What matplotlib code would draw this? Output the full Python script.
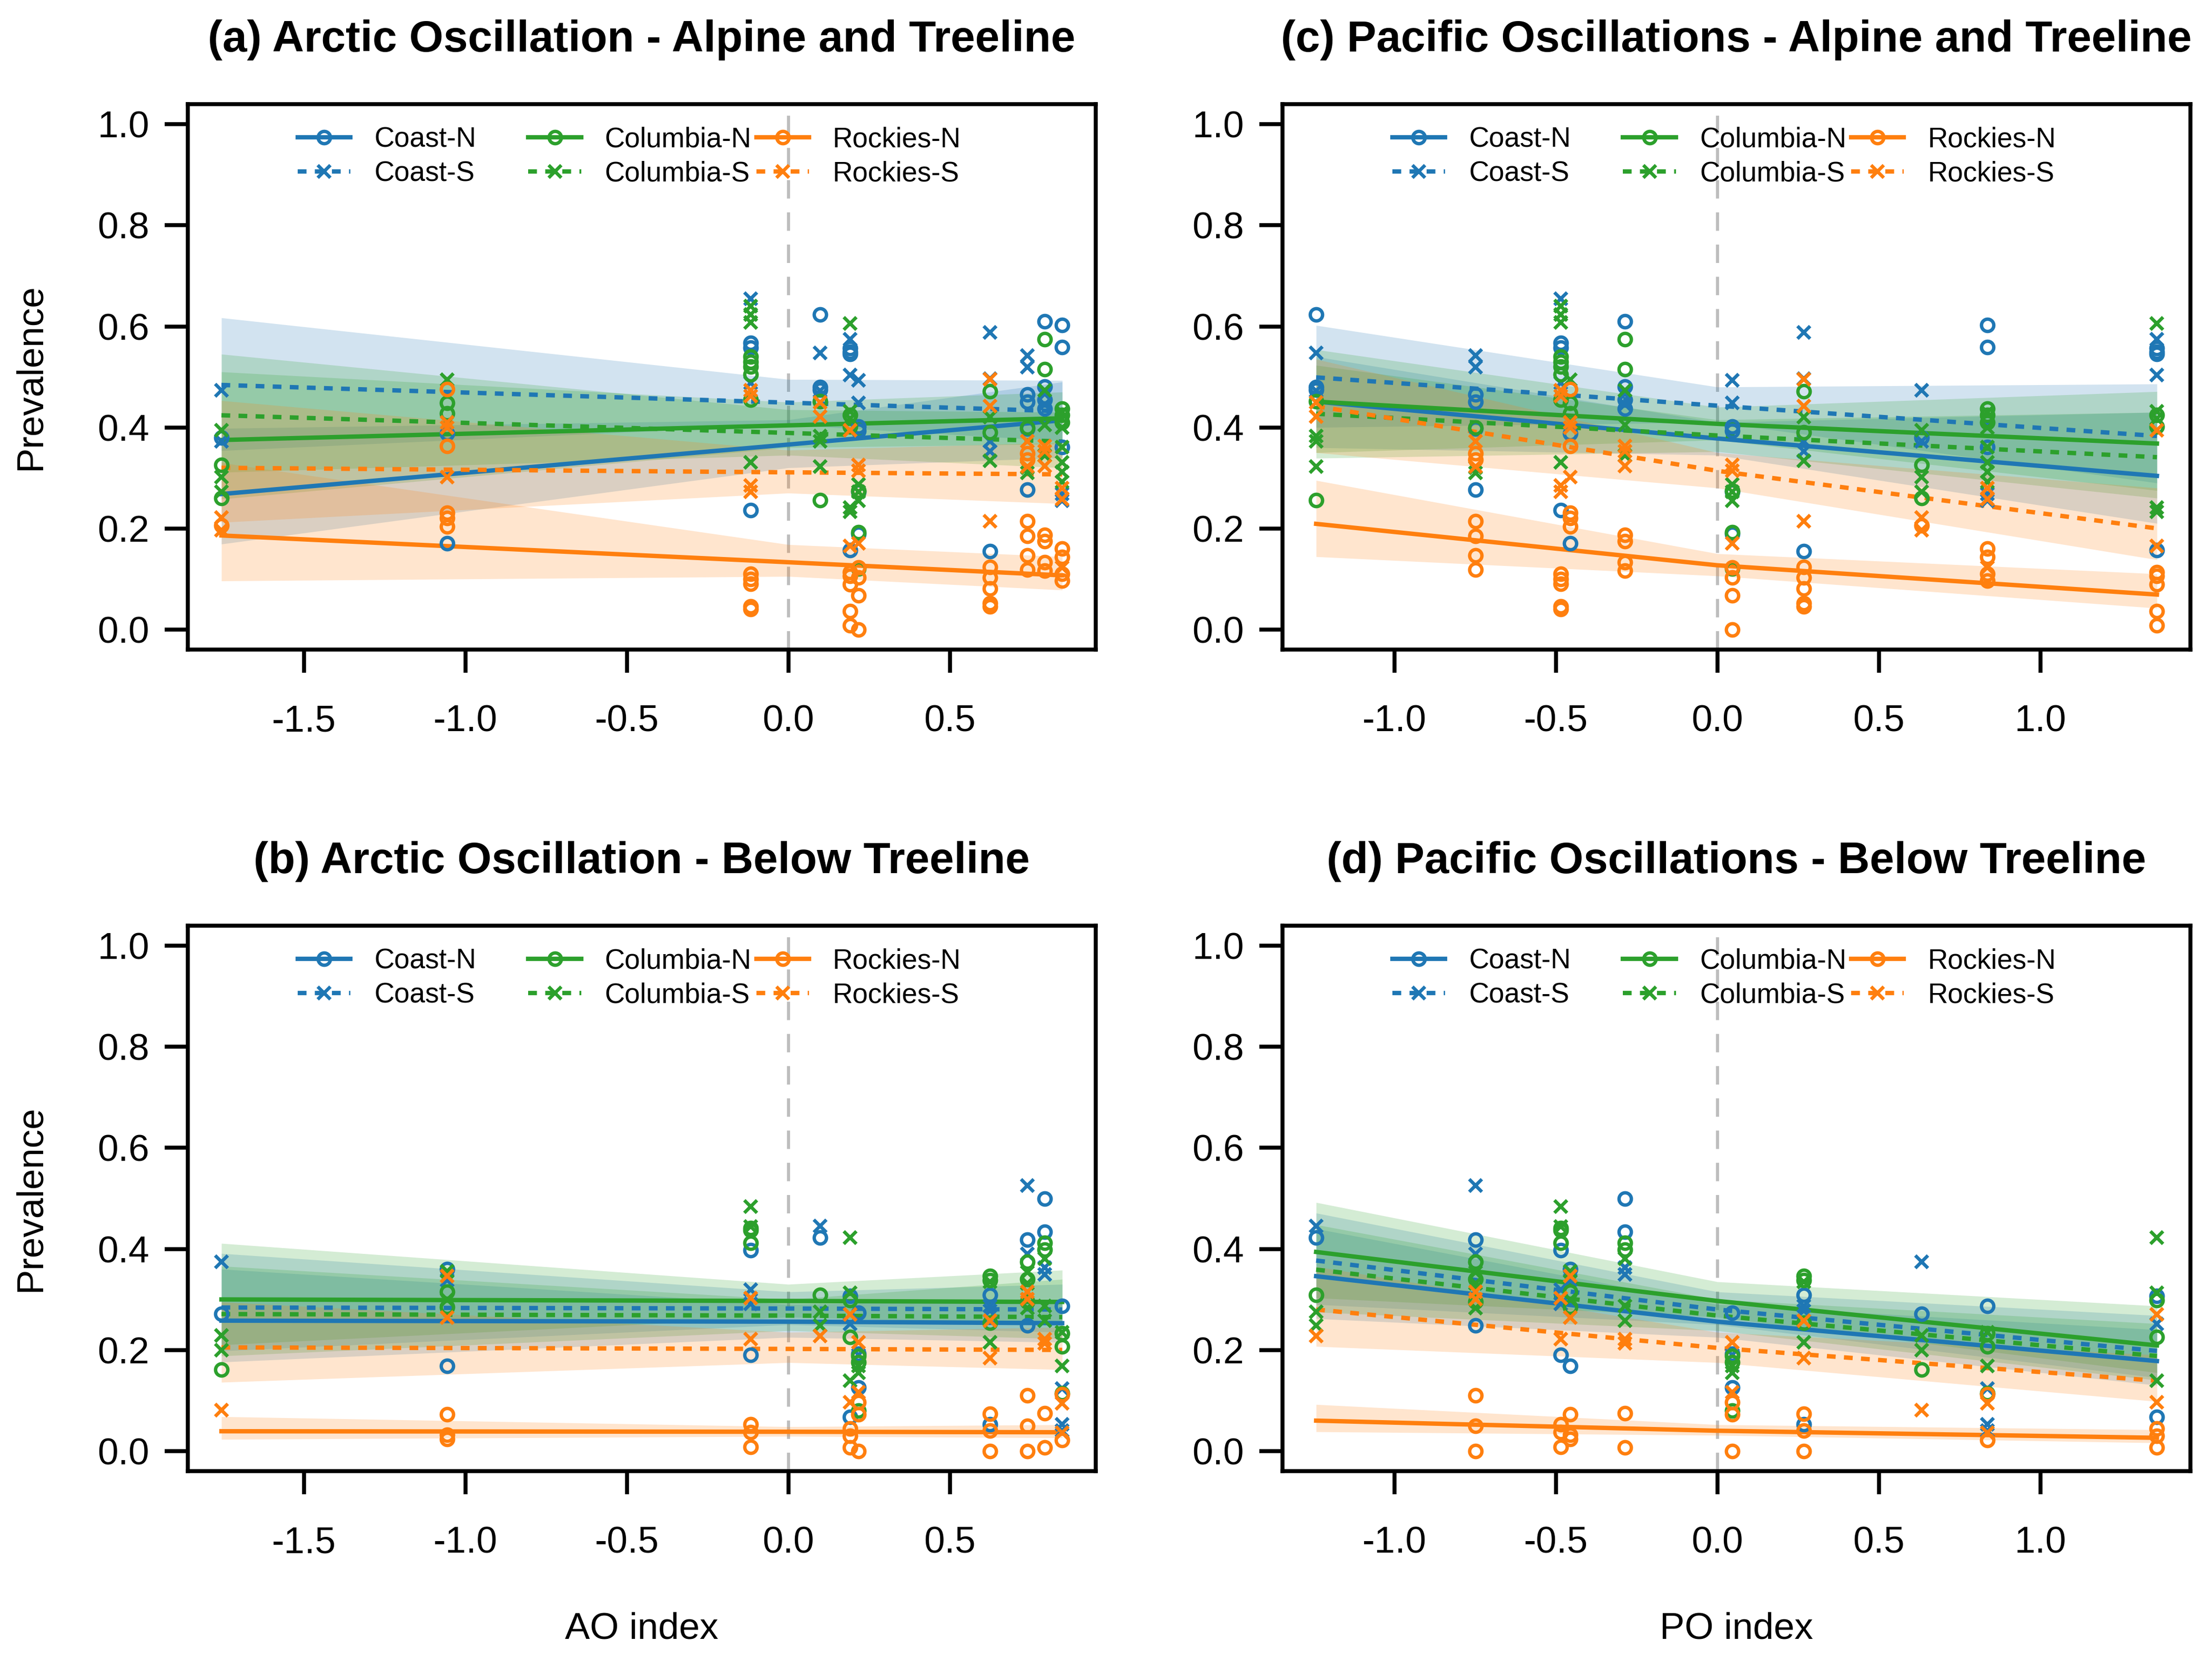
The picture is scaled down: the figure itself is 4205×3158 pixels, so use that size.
import numpy as np
import matplotlib
matplotlib.use("Agg")
import matplotlib.pyplot as plt
from matplotlib.lines import Line2D

plt.rcParams['font.family'] = ['Liberation Sans', 'DejaVu Sans']

# index value of each survey year (same years in AO and PO panels)
ao_index = [-1.755, -1.057, -0.117, 0.098, 0.218, 0.192, 0.625, 0.740, 0.794, 0.848]
po_index = [0.633, -0.456, -0.484, -1.242, 0.047, 1.361, 0.267, -0.748, -0.286, 0.836]

groups = ['Coast-N', 'Coast-S', 'Columbia-N', 'Columbia-S', 'Rockies-N', 'Rockies-S']
region_colors = {'Coast': '#1f77b4', 'Columbia': '#2ca02c', 'Rockies': '#ff7f0e'}

# observed prevalence, alpine and treeline (one list per year)
at_coast_n = [[0.380], [0.388, 0.17], [0.567, 0.558, 0.236], [0.623, 0.48, 0.475],
              [0.402, 0.393, 0.272, 0.189], [0.557, 0.55, 0.545, 0.157], [0.155],
              [0.465, 0.451, 0.397, 0.277], [0.610, 0.481, 0.455, 0.437], [0.603, 0.559, 0.361]]
at_coast_s = [[0.474, 0.373], [], [0.655, 0.488], [0.547, 0.472], [0.493, 0.449],
              [0.574, 0.504], [0.588, 0.496, 0.373, 0.353], [0.542, 0.519], [0.466, 0.445],
              [0.268, 0.255]]
at_columbia_n = [[0.326, 0.26], [0.448, 0.428], [0.54, 0.53, 0.52, 0.505, 0.455], [0.452, 0.256],
                 [0.275, 0.192, 0.12], [0.425, 0.402], [0.471, 0.390], [0.400], [0.574, 0.515],
                 [0.437, 0.425, 0.41]]
at_columbia_s = [[0.394, 0.302, 0.273], [0.494], [0.64, 0.623, 0.608, 0.331], [0.383, 0.372, 0.323],
                 [0.287, 0.272, 0.255], [0.606, 0.432, 0.417, 0.241, 0.233], [0.42, 0.334],
                 [0.32, 0.31], [0.474, 0.405, 0.344], [0.43, 0.40, 0.361, 0.331, 0.312, 0.292]]
at_rockies_n = [[0.206], [0.476, 0.363, 0.231, 0.22, 0.204], [0.11, 0.10, 0.09, 0.045, 0.04], [],
                [0.123, 0.103, 0.067, 0.0], [0.113, 0.106, 0.089, 0.036, 0.008],
                [0.124, 0.103, 0.081, 0.052, 0.045], [0.349, 0.336, 0.214, 0.185, 0.147, 0.118],
                [0.187, 0.175, 0.133, 0.116], [0.16, 0.143, 0.11, 0.096]]
at_rockies_s = [[0.221, 0.197], [0.41, 0.40, 0.302], [0.473, 0.462, 0.285, 0.273], [0.450, 0.421],
                [0.326, 0.314, 0.17], [0.394, 0.165], [0.495, 0.442, 0.214], [0.373, 0.322],
                [0.363, 0.353, 0.324], [0.28, 0.258, 0.123]]

# observed prevalence, below treeline
btl_coast_n = [[0.271], [0.36, 0.168], [0.397, 0.19], [0.422], [0.274, 0.192, 0.126],
               [0.307, 0.067], [0.309, 0.053], [0.418, 0.248], [0.499, 0.434], [0.287]]
btl_coast_s = [[0.374], [0.338], [0.319, 0.291], [0.445], [0.19], [0.252], [0.287, 0.278],
               [0.526, 0.39], [0.363, 0.35], [0.124, 0.053, 0.04]]
btl_columbia_n = [[0.161], [0.315, 0.285], [0.441, 0.437, 0.412], [0.309], [0.188, 0.176, 0.08],
                  [0.299, 0.226], [0.346, 0.338, 0.254], [0.375, 0.34, 0.295], [0.412, 0.398],
                  [0.233, 0.207, 0.114]]
btl_columbia_s = [[0.229, 0.2], [0.356, 0.3], [0.484, 0.444], [0.276, 0.248], [0.168, 0.155],
                  [0.422, 0.313, 0.139], [0.335, 0.215], [0.354, 0.332, 0.283],
                  [0.381, 0.287, 0.258], [0.235, 0.168]]
btl_rockies_n = [[], [0.073, 0.032, 0.024], [0.053, 0.037, 0.008], [], [0.096, 0.073, 0.0],
                 [0.044, 0.03, 0.007], [0.074, 0.04, 0.0], [0.11, 0.05, 0.0], [0.075, 0.007],
                 [0.112, 0.022]]
btl_rockies_s = [[0.081], [0.346, 0.264], [0.303, 0.221], [0.228], [0.215, 0.116], [0.27, 0.096],
                 [0.258, 0.184], [0.315, 0.301], [0.221, 0.213], [0.094, 0.036]]

obs_at = dict(zip(groups, [at_coast_n, at_coast_s, at_columbia_n, at_columbia_s,
                           at_rockies_n, at_rockies_s]))
obs_btl = dict(zip(groups, [btl_coast_n, btl_coast_s, btl_columbia_n, btl_columbia_s,
                            btl_rockies_n, btl_rockies_s]))

# fitted prevalence and 95% band, read at start / zero / end of index range
ao_fit_x = [-1.755, 0.0, 0.848]
po_fit_x = [-1.242, 0.0, 1.361]

fit_a = {'Coast-N': [0.268, 0.366, 0.414], 'Coast-S': [0.484, 0.449, 0.432],
         'Columbia-N': [0.375, 0.404, 0.418], 'Columbia-S': [0.424, 0.389, 0.372],
         'Rockies-N': [0.186, 0.133, 0.107], 'Rockies-S': [0.320, 0.311, 0.307]}
lo_a = {'Coast-N': [0.169, 0.32, 0.34], 'Coast-S': [0.354, 0.405, 0.373],
        'Columbia-N': [0.258, 0.36, 0.367], 'Columbia-S': [0.311, 0.345, 0.32],
        'Rockies-N': [0.096, 0.105, 0.078], 'Rockies-S': [0.212, 0.27, 0.249]}
hi_a = {'Coast-N': [0.398, 0.415, 0.49], 'Coast-S': [0.617, 0.495, 0.493],
        'Columbia-N': [0.51, 0.45, 0.47], 'Columbia-S': [0.545, 0.435, 0.43],
        'Rockies-N': [0.33, 0.168, 0.144], 'Rockies-S': [0.453, 0.355, 0.37]}

fit_b = {'Coast-N': [0.258, 0.256, 0.253], 'Coast-S': [0.284, 0.282, 0.28],
         'Columbia-N': [0.300, 0.297, 0.295], 'Columbia-S': [0.271, 0.268, 0.265],
         'Rockies-N': [0.039, 0.038, 0.037], 'Rockies-S': [0.205, 0.202, 0.2]}
lo_b = {'Coast-N': [0.176, 0.225, 0.215], 'Coast-S': [0.198, 0.25, 0.235],
        'Columbia-N': [0.21, 0.265, 0.25], 'Columbia-S': [0.188, 0.238, 0.222],
        'Rockies-N': [0.023, 0.029, 0.026], 'Rockies-S': [0.136, 0.175, 0.161]}
hi_b = {'Coast-N': [0.36, 0.29, 0.3], 'Coast-S': [0.391, 0.315, 0.33],
        'Columbia-N': [0.411, 0.33, 0.358], 'Columbia-S': [0.366, 0.30, 0.34],
        'Rockies-N': [0.068, 0.048, 0.052], 'Rockies-S': [0.295, 0.235, 0.245]}

fit_c = {'Coast-N': [0.451, 0.378, 0.304], 'Coast-S': [0.499, 0.443, 0.383],
         'Columbia-N': [0.451, 0.407, 0.368], 'Columbia-S': [0.427, 0.384, 0.341],
         'Rockies-N': [0.209, 0.127, 0.069], 'Rockies-S': [0.442, 0.314, 0.20]}
lo_c = {'Coast-N': [0.36, 0.345, 0.21], 'Coast-S': [0.40, 0.41, 0.29],
        'Columbia-N': [0.35, 0.375, 0.275], 'Columbia-S': [0.339, 0.352, 0.26],
        'Rockies-N': [0.144, 0.106, 0.042], 'Rockies-S': [0.35, 0.28, 0.138]}
hi_c = {'Coast-N': [0.54, 0.41, 0.43], 'Coast-S': [0.602, 0.48, 0.486],
        'Columbia-N': [0.554, 0.44, 0.471], 'Columbia-S': [0.523, 0.415, 0.43],
        'Rockies-N': [0.295, 0.15, 0.11], 'Rockies-S': [0.535, 0.35, 0.28]}

fit_d = {'Coast-N': [0.346, 0.256, 0.178], 'Coast-S': [0.377, 0.28, 0.198],
         'Columbia-N': [0.394, 0.297, 0.209], 'Columbia-S': [0.359, 0.268, 0.188],
         'Rockies-N': [0.06, 0.04, 0.026], 'Rockies-S': [0.28, 0.204, 0.139]}
lo_d = {'Coast-N': [0.262, 0.225, 0.13], 'Coast-S': [0.29, 0.25, 0.145],
        'Columbia-N': [0.303, 0.265, 0.155], 'Columbia-S': [0.275, 0.238, 0.14],
        'Rockies-N': [0.038, 0.031, 0.016], 'Rockies-S': [0.207, 0.175, 0.098]}
hi_d = {'Coast-N': [0.44, 0.29, 0.24], 'Coast-S': [0.471, 0.315, 0.268],
        'Columbia-N': [0.492, 0.335, 0.287], 'Columbia-S': [0.448, 0.30, 0.252],
        'Rockies-N': [0.092, 0.052, 0.042], 'Rockies-S': [0.365, 0.235, 0.19]}

yticks = [0.0, 0.2, 0.4, 0.6, 0.8, 1.0]
ao_ticks = [-1.5, -1.0, -0.5, 0.0, 0.5]
po_ticks = [-1.0, -0.5, 0.0, 0.5, 1.0]

LW = 2.0
DOT = (0, (2.0, 1.9))
MS = 5.6
MEW = 1.55


def style_of(group):
    region, part = group.split('-')
    col = region_colors[region]
    if part == 'N':
        return col, '-', 'o'
    return col, DOT, 'x'


def draw_panel(ax, xvals, obs, fit_x, fit, lo, hi, title, xticks):
    ax.axvline(0, color='#bdbdbd', lw=1.4, ls=(0, (6, 4.5)), zorder=0)
    for g in groups:
        col, ls, mk = style_of(g)
        ax.fill_between(fit_x, lo[g], hi[g], color=col, alpha=0.2, lw=0, zorder=1)
    for g in groups:
        col, ls, mk = style_of(g)
        ax.plot(fit_x, fit[g], color=col, ls=ls, lw=LW, zorder=2)
    for g in groups:
        col, ls, mk = style_of(g)
        xs = [x for x, ys in zip(xvals, obs[g]) for _ in ys]
        ys = [y for yl in obs[g] for y in yl]
        ax.plot(xs, ys, ls='none', marker=mk, ms=MS, mew=MEW, mfc='none', mec=col, zorder=3)

    span = max(xvals) - min(xvals)
    ax.set_xlim(min(xvals) - 0.04 * span, max(xvals) + 0.04 * span)
    ax.set_ylim(-0.04, 1.04)
    ax.set_yticks(yticks)
    ax.set_yticklabels(['%.1f' % v for v in yticks])
    ax.set_xticks(xticks)
    ax.set_xticklabels(['%.1f' % v for v in xticks])
    for sp in ax.spines.values():
        sp.set_linewidth(1.8)
    ax.tick_params(axis='both', direction='out', length=10.5, width=1.8, labelsize=17)
    ax.tick_params(axis='x', pad=14.5)
    ax.tick_params(axis='y', pad=7)
    ax.set_title(title, fontsize=20.1, fontweight='bold', pad=24)

    # legend: one small legend per region so the columns sit evenly
    anchors = [0.121, 0.375, 0.626]
    legs = []
    for xa, region in zip(anchors, ['Coast', 'Columbia', 'Rockies']):
        handles = []
        for part in ['N', 'S']:
            col, ls, mk = style_of(region + '-' + part)
            handles.append(Line2D([], [], color=col, ls=ls, lw=LW, marker=mk, ms=MS,
                                  mew=MEW, mfc='none', mec=col))
        leg = ax.legend(handles, [region + '-N', region + '-S'], loc='upper left',
                        bbox_to_anchor=(xa, 0.959), frameon=False, borderpad=0,
                        borderaxespad=0, handlelength=1.9, handletextpad=0.85,
                        labelspacing=0.28, fontsize=12.7)
        legs.append(leg)
    for leg in legs[:-1]:
        ax.add_artist(leg)


fig = plt.figure(figsize=(4205 / 300, 3158 / 300), dpi=300)
w, h = 0.4105, 0.3284
ax_a = fig.add_axes([0.0849, 0.6089, w, h])
ax_c = fig.add_axes([0.5798, 0.6089, w, h])
ax_b = fig.add_axes([0.0849, 0.1143, w, h])
ax_d = fig.add_axes([0.5798, 0.1143, w, h])

draw_panel(ax_a, ao_index, obs_at, ao_fit_x, fit_a, lo_a, hi_a,
           '(a) Arctic Oscillation - Alpine and Treeline', ao_ticks)
draw_panel(ax_b, ao_index, obs_btl, ao_fit_x, fit_b, lo_b, hi_b,
           '(b) Arctic Oscillation - Below Treeline', ao_ticks)
draw_panel(ax_c, po_index, obs_at, po_fit_x, fit_c, lo_c, hi_c,
           '(c) Pacific Oscillations - Alpine and Treeline', po_ticks)
draw_panel(ax_d, po_index, obs_btl, po_fit_x, fit_d, lo_d, hi_d,
           '(d) Pacific Oscillations - Below Treeline', po_ticks)

for ax in [ax_a, ax_b]:
    ax.text(-0.1727, 0.5, 'Prevalence', transform=ax.transAxes, rotation=90,
            ha='center', va='center', fontsize=17)
ax_b.text(0.5, -0.29, 'AO index', transform=ax_b.transAxes, ha='center', va='center', fontsize=17)
ax_d.text(0.5, -0.29, 'PO index', transform=ax_d.transAxes, ha='center', va='center', fontsize=17)

fig.savefig('out.png', dpi=300)
